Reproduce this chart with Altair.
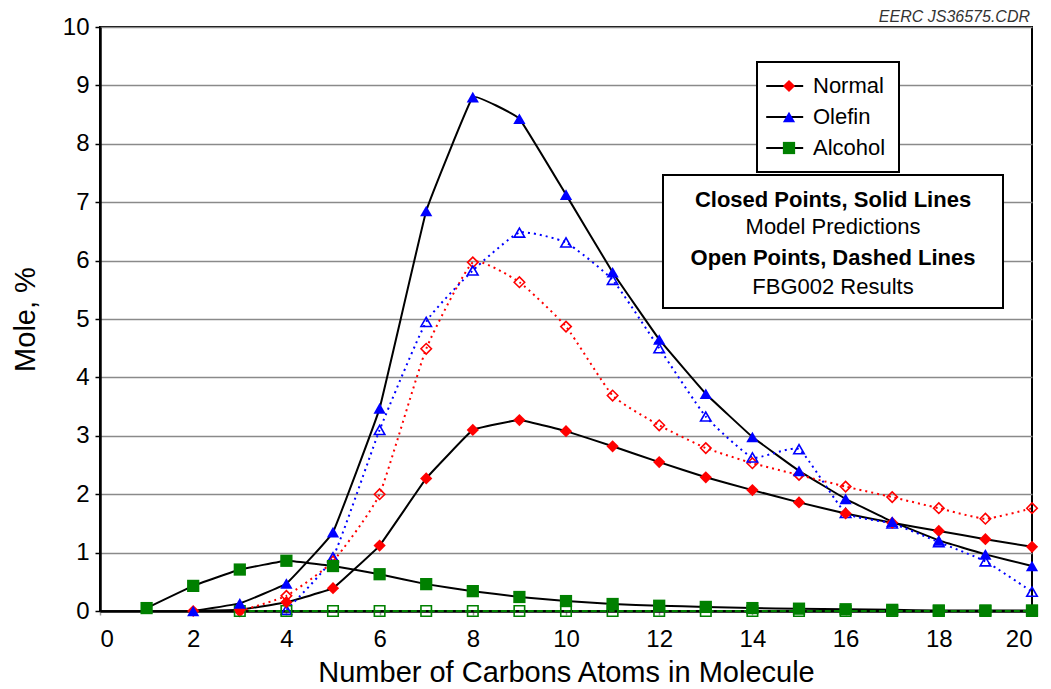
import altair as alt
import pandas as pd

# ---------------- data ----------------
series_order = ["Normal", "Olefin", "Alcohol"]
series_colors = ["#FF0000", "#0000FF", "#008000"]
series_shapes = ["diamond", "triangle-up", "square"]
series_dashes = [[2, 4], [2, 4], [6, 3]]

# Model predictions (closed points, solid lines)
model_normal_x = list(range(2, 21))
model_normal_y = [0.0, 0.02, 0.15, 0.39, 1.12, 2.27, 3.10, 3.27, 3.08, 2.82,
                  2.55, 2.29, 2.07, 1.86, 1.67, 1.51, 1.37, 1.23, 1.10]
model_olefin_x = list(range(2, 21))
model_olefin_y = [0.0, 0.13, 0.47, 1.35, 3.47, 6.85, 8.80, 8.43, 7.13, 5.80,
                  4.65, 3.72, 2.98, 2.40, 1.92, 1.53, 1.21, 0.97, 0.77]
model_alcohol_x = list(range(1, 21))
model_alcohol_y = [0.05, 0.43, 0.71, 0.86, 0.77, 0.63, 0.46, 0.34, 0.24, 0.17,
                   0.12, 0.09, 0.07, 0.05, 0.04, 0.03, 0.02, 0.01, 0.01, 0.01]

# FBG002 results (open points, dashed lines)
exp_normal_x = list(range(3, 21))
exp_normal_y = [0.0, 0.26, 0.85, 2.00, 4.49, 5.97, 5.63, 4.87, 3.69, 3.18,
                2.79, 2.53, 2.33, 2.13, 1.95, 1.76, 1.58, 1.76]
exp_olefin_x = list(range(4, 21))
exp_olefin_y = [0.02, 0.92, 3.10, 4.95, 5.83, 6.48, 6.31, 5.67, 4.50, 3.33,
                2.63, 2.77, 1.68, 1.50, 1.18, 0.85, 0.33]
exp_alcohol_x = list(range(3, 21))
exp_alcohol_y = [0.0] * 18

x_tick_values = list(range(0, 21, 2))
y_tick_values = list(range(0, 11))

note_lines = ["Closed Points, Solid Lines", "Model Predictions",
              "Open Points, Dashed Lines", "FBG002 Results"]
corner_label = "EERC JS36575.CDR"


def long_df(pairs):
    rows = []
    for name, xs, ys in pairs:
        for xv, yv in zip(xs, ys):
            rows.append({"series": name, "x": xv, "y": yv})
    return pd.DataFrame(rows)


model_df = long_df([("Normal", model_normal_x, model_normal_y),
                    ("Olefin", model_olefin_x, model_olefin_y),
                    ("Alcohol", model_alcohol_x, model_alcohol_y)])
exp_df = long_df([("Normal", exp_normal_x, exp_normal_y),
                  ("Olefin", exp_olefin_x, exp_olefin_y),
                  ("Alcohol", exp_alcohol_x, exp_alcohol_y)])

FONT = "Liberation Sans"

xenc = alt.X("x:Q", scale=alt.Scale(domain=[0, 20], nice=False, zero=False),
             axis=alt.Axis(values=x_tick_values, title="Number of Carbons Atoms in Molecule",
                           grid=False, tickSize=4, tickColor="#999999", labelPadding=12,
                           titlePadding=7, format="d"))
yenc = alt.Y("y:Q", scale=alt.Scale(domain=[0, 10], nice=False),
             axis=alt.Axis(values=y_tick_values, title="Mole, %", grid=True,
                           gridColor="#8a8a8a", gridWidth=1.5, tickSize=5,
                           labelPadding=6, titlePadding=22, format="d"))

# legend pieces ---------------------------------------------------
line_legend = alt.Legend(
    orient="none", legendX=657, legendY=35, title=None,
    symbolType="M-1.6,0H2.4", symbolSize=342, symbolStrokeWidth=2,
    symbolStrokeColor="black", symbolFillColor="black",
    labelFont=FONT, labelFontSize=22, labelColor="black", labelOffset=21,
    labelExpr="datum.label + '  '",
    padding=13, rowPadding=9, strokeColor="black", fillColor="white", zindex=1,
)
marker_legend = alt.Legend(
    orient="none", legendX=666, legendY=36, title=None,
    symbolSize=150, symbolStrokeWidth=0,
    labelFontSize=22, labelExpr="''", padding=12, rowPadding=9, zindex=2,
)

model_lines = alt.Chart(model_df).mark_line(
    interpolate="cardinal", tension=0.8, strokeWidth=2
).encode(
    x=xenc, y=yenc,
    stroke=alt.Stroke("series:N", scale=alt.Scale(domain=series_order,
                                                 range=["black", "black", "black"]),
                      legend=line_legend),
)

exp_lines = alt.Chart(exp_df).mark_line(
    interpolate="cardinal", tension=0.55, strokeWidth=2
).encode(
    x=xenc, y=yenc,
    color=alt.Color("series:N", scale=alt.Scale(domain=series_order, range=series_colors),
                    legend=None),
    strokeDash=alt.StrokeDash("series:N", scale=alt.Scale(domain=series_order,
                                                          range=series_dashes),
                              legend=None),
)

exp_points = alt.Chart(exp_df).mark_point(
    filled=False, size=110, strokeWidth=1.6, opacity=1
).encode(
    x=xenc, y=yenc,
    color=alt.Color("series:N", scale=alt.Scale(domain=series_order, range=series_colors),
                    legend=None),
    shape=alt.Shape("series:N", scale=alt.Scale(domain=series_order, range=series_shapes),
                    legend=None),
)

model_points = alt.Chart(model_df).mark_point(
    filled=True, size=150, opacity=1, strokeWidth=0
).encode(
    x=xenc, y=yenc,
    fill=alt.Fill("series:N", scale=alt.Scale(domain=series_order, range=series_colors),
                  legend=marker_legend),
    shape=alt.Shape("series:N", scale=alt.Scale(domain=series_order, range=series_shapes),
                    legend=marker_legend),
)

# annotation box ------------------------------------------------------
box_df = pd.DataFrame({"k": [0]})
note_box = alt.Chart(box_df).mark_rect(
    fill="white", stroke="black", strokeWidth=2
).encode(x=alt.value(563), x2=alt.value(903), y=alt.value(148), y2=alt.value(281))

note_y = [173, 200, 231, 260]
note_bold = [True, False, True, False]
note_layers = []
for txt, yy, bold in zip(note_lines, note_y, note_bold):
    note_layers.append(
        alt.Chart(pd.DataFrame({"t": [txt]})).mark_text(
            font=FONT, fontSize=22, fontWeight="bold" if bold else "normal",
            color="black", align="center", baseline="middle"
        ).encode(text="t:N", x=alt.value(733), y=alt.value(yy))
    )

corner = alt.Chart(pd.DataFrame({"t": [corner_label]})).mark_text(
    font=FONT, fontSize=16, fontStyle="italic", color="#333333",
    align="right", baseline="alphabetic"
).encode(text="t:N", x=alt.value(930), y=alt.value(-5))

chart = alt.layer(
    model_lines, exp_lines, exp_points, model_points, note_box, *note_layers, corner
).resolve_scale(
    color="independent", stroke="independent", fill="independent", shape="independent",
    strokeDash="independent"
).properties(
    width=932, height=584,
    padding={"left": 100, "top": 27, "right": 19, "bottom": 78},
    autosize=alt.AutoSizeParams(type="none"),
).configure_view(
    stroke="black", strokeWidth=2
).configure_axis(
    labelFont=FONT, labelFontSize=24, labelColor="black",
    titleFont=FONT, titleFontSize=29, titleFontWeight="normal", titleColor="black",
    domainColor="black", domainWidth=2.5, tickColor="black", tickWidth=1.5,
).configure_legend(
    strokeWidth=2,
)

chart.save("out.html", embed_options={"renderer": "svg", "actions": False})
